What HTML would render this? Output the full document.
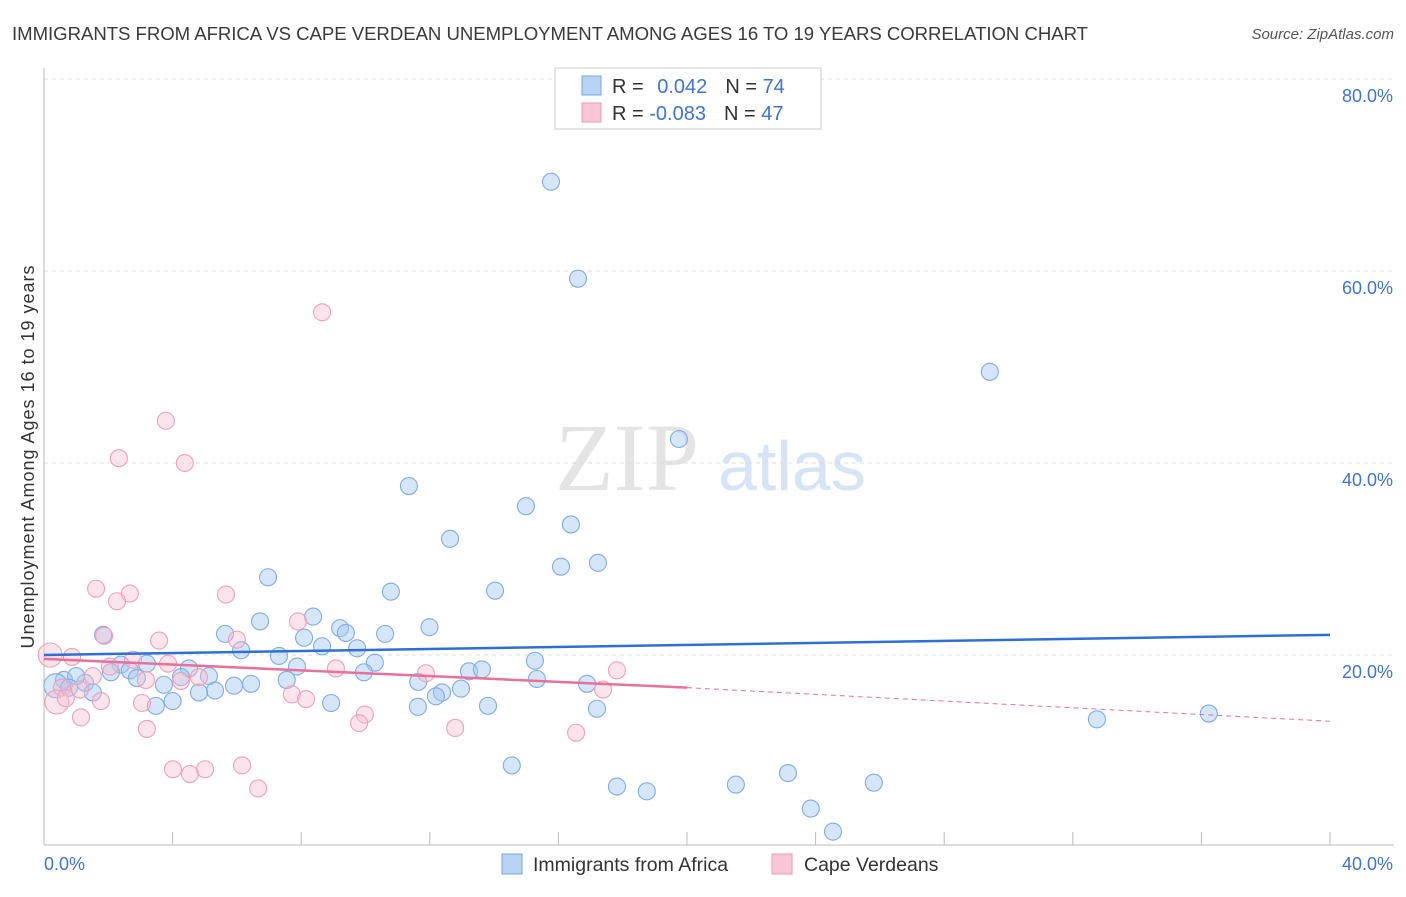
<!DOCTYPE html>
<html><head><meta charset="utf-8"><style>
body{margin:0;background:#fff;font-family:"Liberation Sans",sans-serif;}
</style></head><body>
<svg id="chart" width="1406" height="892" xmlns="http://www.w3.org/2000/svg" style="font-family:'Liberation Sans',sans-serif">
<text x="12" y="40" font-size="18.6" fill="#3a3a3a" textLength="1076">IMMIGRANTS FROM AFRICA VS CAPE VERDEAN UNEMPLOYMENT AMONG AGES 16 TO 19 YEARS CORRELATION CHART</text>
<text x="1394" y="39" font-size="15" fill="#555" text-anchor="end" font-style="italic">Source: ZipAtlas.com</text>
<text x="555" y="490" font-size="96" fill="#e4e4e4" font-family="Liberation Serif">ZIP</text>
<text x="718" y="490" font-size="70" fill="#d6e4f5">atlas</text>
<g id="grid"></g>
<line x1="44" y1="68" x2="44" y2="845" stroke="#bbb"/>
<line x1="44" y1="845" x2="1394" y2="845" stroke="#bbb"/>
<text transform="translate(34,457) rotate(-90)" font-size="18" fill="#333" text-anchor="middle" textLength="383">Unemployment Among Ages 16 to 19 years</text>
<text x="44" y="870" font-size="18" fill="#3f74d4">0.0%</text>
<text x="1393" y="870" font-size="18" fill="#3f74d4" text-anchor="end">40.0%</text>
<g id="pts"></g>
<g id="trends"></g>
<g>
<rect x="555" y="68" width="266" height="61" fill="#fff" stroke="#ccc"/>
<rect x="582" y="76" width="19" height="19" fill="#b9d3f5" stroke="#7aa7e0"/>
<rect x="582" y="103" width="19" height="19" fill="#f9c6d6" stroke="#ee9ab5"/>
<text x="612" y="93" font-size="20" fill="#333">R = <tspan fill="#3f74d4" dx="8">0.042</tspan><tspan dx="18">N = </tspan><tspan fill="#3f74d4">74</tspan></text>
<text x="612" y="120" font-size="20" fill="#333">R = <tspan fill="#3f74d4">-0.083</tspan><tspan dx="18">N = </tspan><tspan fill="#3f74d4">47</tspan></text>
</g>
<g>
<rect x="502" y="854" width="20" height="20" fill="#b9d3f5" stroke="#7aa7e0"/>
<text x="533" y="871" font-size="19.5" fill="#333">Immigrants from Africa</text>
<rect x="772" y="854" width="20" height="20" fill="#f9c6d6" stroke="#ee9ab5"/>
<text x="804" y="871" font-size="19.5" fill="#333">Cape Verdeans</text>
</g>
</svg>
<script>
const yTicks=[20,40,60,80];
const xTicks=[0,4,8,12,16,20,24,28,32,36,40];
const blueX=[15.77,16.61,29.42,19.75,11.35,14.99,16.39,12.63,16.08,17.23,6.97,14.03,10.79,8.37,6.72,11.99,9.21,9.39,5.63,10.61,1.84,8.09,8.65,6.13,9.74,7.31,15.27,10.29,2.39,3.2,7.87,4.51,2.08,9.95,13.22,13.62,2.67,5.13,4.26,2.89,7.55,11.64,15.33,16.89,0.62,1.28,1.0,0.37,0.78,6.44,3.73,5.91,1.52,12.38,12.97,12.19,5.32,4.82,4.0,3.48,8.93,11.63,13.81,17.2,32.75,36.23,14.55,23.14,17.82,18.75,21.52,25.81,23.85,24.54];
const blueY=[69.3,59.2,49.5,42.5,37.6,35.5,33.6,32.1,29.2,29.6,28.1,26.7,26.6,24.0,23.5,22.9,22.8,22.3,22.2,22.2,22.1,21.8,20.9,20.5,20.7,19.9,19.4,19.2,19.0,19.1,18.8,18.6,18.2,18.2,18.3,18.5,18.4,17.8,17.7,17.6,17.4,17.2,17.5,17.0,17.4,17.1,17.8,16.8,16.6,17.0,16.9,16.8,16.1,16.1,16.5,15.7,16.3,16.1,15.2,14.7,15.0,14.6,14.7,14.4,13.3,13.9,8.5,7.7,6.3,5.8,6.5,6.7,4.0,1.6];
const pinkX=[8.65,3.79,2.33,4.38,1.62,2.67,2.27,5.66,7.9,1.87,3.58,6.0,0.87,0.19,2.77,3.86,2.05,9.08,11.88,17.82,1.52,3.17,4.82,4.26,0.56,1.12,7.71,17.39,8.15,0.4,0.68,1.77,3.05,9.98,9.8,1.15,12.79,3.2,16.55,6.16,4.01,5.01,4.54,6.66];
const pinkY=[55.7,44.4,40.5,40.0,26.9,26.4,25.6,26.3,23.5,22.0,21.5,21.6,19.8,20.0,19.5,19.1,18.8,18.6,18.1,18.4,17.8,17.4,17.7,17.3,16.6,16.4,15.9,16.4,15.4,15.1,15.5,15.2,15.0,13.8,12.9,13.5,12.4,12.3,11.9,8.5,8.1,8.1,7.6,6.1];
const blueTrend=[20.0,22.1];
const pinkTrend=[19.6,16.6,13.1];
const X=v=>44+v/40*1286, Y=v=>847-v*9.6;
const NS="http://www.w3.org/2000/svg";
function mk(tag,attrs,parent){const e=document.createElementNS(NS,tag);for(const k in attrs)e.setAttribute(k,attrs[k]);document.getElementById(parent).appendChild(e);return e;}
yTicks.forEach(t=>{
 const l=mk('line',{x1:44,x2:1394,y1:Y(t),y2:Y(t),stroke:'#ddd','stroke-dasharray':'4,4'},'grid');
 
 
 const tx=mk('text',{x:1393,y:Y(t)+23,'font-size':18,fill:'#3f74d4','text-anchor':'end'},'grid');
 tx.textContent=t.toFixed(1)+'%';
 
 
});
xTicks.forEach(t=>{
 const l=mk('line',{x1:X(t),x2:X(t),y1:832,y2:845,stroke:'#bbb'},'grid');
 
 
});
function pts(xs,ys,fill,stroke,name){xs.forEach((x,i)=>{
 const r=(x<0.5)?12:8.5;
 const c=mk('circle',{cx:X(x),cy:Y(ys[i]),r:r,fill:fill,stroke:stroke,'stroke-width':1.1},'pts');
 
 
});}
pts(blueX,blueY,'rgba(165,199,242,0.45)','#82abe3','africa-point');
pts(pinkX,pinkY,'rgba(247,188,207,0.4)','#efa0bb','cape-verdean-point');
let b=mk('line',{x1:X(0),y1:Y(blueTrend[0]),x2:X(40),y2:Y(blueTrend[1]),stroke:'#2e6fd6','stroke-width':2.5},'trends');


let p=mk('line',{x1:X(0),y1:Y(pinkTrend[0]),x2:X(20),y2:Y(pinkTrend[1]),stroke:'#e8709a','stroke-width':2.5},'trends');


let pd=mk('line',{x1:X(20),y1:Y(pinkTrend[1]),x2:X(40),y2:Y(pinkTrend[2]),stroke:'#e8709a','stroke-width':1,'stroke-dasharray':'5,4'},'trends');


</script>
</body></html>
